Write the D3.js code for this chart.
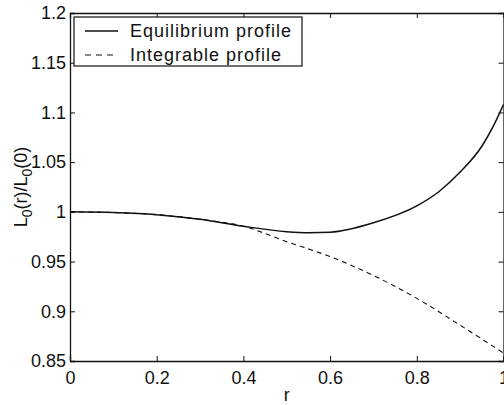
<!DOCTYPE html>
<html>
<head>
<meta charset="utf-8">
<script src="https://cdn.jsdelivr.net/npm/d3@7"></script>
<style>
  body { margin: 0; background: #fff; }
  text { font-family: "Liberation Sans", Arial, sans-serif; fill: #111; }
</style>
</head>
<body>
<svg id="chart" width="504" height="405"></svg>
<script>
// values
var rEq = [0, 0.1, 0.2, 0.3, 0.4, 0.5, 0.55, 0.6, 0.7, 0.8, 0.85, 0.9, 0.95, 0.975, 1.0];
var equilibrium = [1.000, 0.9993, 0.9972, 0.9925, 0.9855, 0.980, 0.979, 0.9795, 0.989, 1.006, 1.020, 1.040, 1.066, 1.085, 1.108];

var rInt = [0, 0.1, 0.2, 0.3, 0.4, 0.5, 0.6, 0.7, 0.8, 0.9, 1.0];
var integrable = [1.000, 0.9993, 0.9972, 0.9925, 0.9855, 0.970, 0.955, 0.936, 0.913, 0.886, 0.858];

var xTicks = [0, 0.2, 0.4, 0.6, 0.8, 1];
var yTicks = [0.85, 0.9, 0.95, 1, 1.05, 1.1, 1.15, 1.2];
var legendLabels = ["Equilibrium profile", "Integrable profile"];

var svg = d3.select("#chart"),
  margin = { top: 13, right: 0.5, bottom: 44, left: 70 },
  width = +svg.attr("width") - margin.left - margin.right,
  height = +svg.attr("height") - margin.top - margin.bottom;

var x = d3.scaleLinear().domain([0, 1]).range([0, width]),
  y = d3.scaleLinear().domain([0.85, 1.2]).range([height, 0]);

var g = svg.append("g").attr("transform", "translate(" + margin.left + "," + margin.top + ")");

// curves
var line = d3.line()
  .x(function (d) { return x(d[0]); })
  .y(function (d) { return y(d[1]); })
  .curve(d3.curveMonotoneX);

g.append("path")
  .datum(d3.zip(rEq, equilibrium))
  .attr("fill", "none")
  .attr("stroke", "#111")
  .attr("stroke-width", 1.5)
  .attr("d", line);

g.append("path")
  .datum(d3.zip(rInt, integrable))
  .attr("fill", "none")
  .attr("stroke", "#111")
  .attr("stroke-width", 1.1)
  .attr("stroke-dasharray", "5,4")
  .attr("d", line);

// axes, ticks inward, mirrored on top/right
function styleAxis(sel) {
  sel.select(".domain").attr("stroke", "#111").attr("stroke-width", 1.3);
  sel.selectAll(".tick line").attr("stroke", "#111");
  sel.selectAll(".tick text").style("font-size", "18px").attr("fill", "#111");
}

g.append("g")
  .attr("transform", "translate(0," + height + ")")
  .call(d3.axisBottom(x).tickValues(xTicks).tickSize(-5).tickPadding(10).tickFormat(d3.format("")))
  .call(styleAxis);

g.append("g")
  .call(d3.axisTop(x).tickValues(xTicks).tickSize(-5).tickFormat(""))
  .call(styleAxis);

g.append("g")
  .call(d3.axisLeft(y).tickValues(yTicks).tickSize(-5).tickPadding(4).tickFormat(d3.format("")))
  .call(styleAxis);

g.append("g")
  .attr("transform", "translate(" + width + ",0)")
  .call(d3.axisRight(y).tickValues(yTicks).tickSize(-5).tickFormat(""))
  .call(styleAxis);

// axis labels
svg.append("text")
  .attr("x", margin.left + width / 2)
  .attr("y", 401)
  .attr("text-anchor", "middle")
  .style("font-size", "18px")
  .text("r");

var yl = svg.append("text")
  .attr("transform", "translate(27," + (margin.top + height / 2) + ") rotate(-90)")
  .attr("text-anchor", "middle")
  .style("font-size", "18px");
yl.append("tspan").text("L");
yl.append("tspan").attr("dy", 5).style("font-size", "14px").text("0");
yl.append("tspan").attr("dy", -5).text("(r)/L");
yl.append("tspan").attr("dy", 5).style("font-size", "14px").text("0");
yl.append("tspan").attr("dy", -5).text("(0)");

// legend
var lg = g.append("g").attr("transform", "translate(4,4)");
lg.append("rect")
  .attr("width", 228)
  .attr("height", 49)
  .attr("fill", "#fff")
  .attr("stroke", "#111")
  .attr("stroke-width", 1.2);

legendLabels.forEach(function (lab, i) {
  var yy = 14 + i * 24;
  lg.append("line")
    .attr("x1", 11).attr("x2", 44)
    .attr("y1", yy).attr("y2", yy)
    .attr("stroke", "#111")
    .attr("stroke-width", i === 0 ? 1.3 : 1.1)
    .attr("stroke-dasharray", i === 0 ? null : "6,5");
  lg.append("text")
    .attr("x", 56)
    .attr("y", yy + 6)
    .style("font-size", "18px")
    .style("letter-spacing", "1px")
    .text(lab);
});
</script>
</body>
</html>
